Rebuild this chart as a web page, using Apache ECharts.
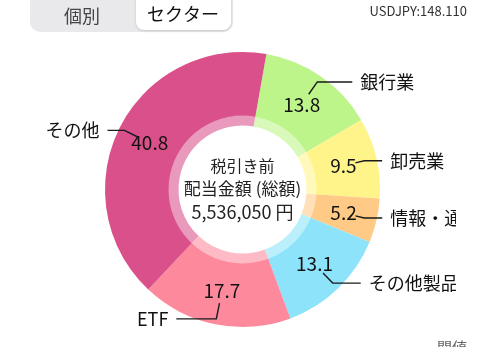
<!DOCTYPE html>
<html>
<head>
<meta charset="utf-8">
<script src="https://cdn.jsdelivr.net/npm/echarts@6/dist/echarts.min.js"></script>
<style>
  html, body { margin: 0; padding: 0; background: #fff; }
  #chart { width: 485px; height: 347px; }
</style>
</head>
<body>
<div id="chart"></div>
<script>
// Sector breakdown of pre-tax dividends (%)
const sectors = ['銀行業', '卸売業', '情報・通信', 'その他製品', 'ETF', 'その他'];
const shares = [13.8, 9.5, 5.2, 13.1, 17.7, 40.8];
const centerLines = ['税引き前', '配当金額 (総額)', '5,536,050 円'];
const tabs = ['個別', 'セクター'];
const fxText = 'USDJPY:148.110';
const footText = '関値';

const palette = ['#bdf58b', '#fff48a', '#ffca85', '#8ce3fa', '#fd8a9c', '#d9508a'];
// leader line segments per slice: [radial, horizontal]
const leaderSegs = [[15, 35], [9, 18], [9, 18], [14, 28], [16, 40], [16, 17]];
const FONT = '"Noto Sans CJK JP", "Noto Sans", sans-serif';

const CX = 242.5, CY = 189.5;

const chart = echarts.init(document.getElementById('chart'), null, { renderer: 'canvas' });

chart.setOption({
  animation: false,
  backgroundColor: '#ffffff',
  graphic: [
    // segmented control
    { type: 'rect', shape: { x: 30, y: -12, width: 203, height: 44, r: 10 },
      style: { fill: '#e9e9ec' } },
    { type: 'rect', shape: { x: 136, y: -8, width: 95, height: 38, r: 8 },
      style: { fill: '#ffffff', shadowBlur: 3, shadowColor: 'rgba(0,0,0,0.15)', shadowOffsetY: 1 } },
    { type: 'text', x: 82, y: 16,
      style: { text: tabs[0], font: '18px ' + FONT, fill: '#444', align: 'center', verticalAlign: 'middle' } },
    { type: 'text', x: 183, y: 14,
      style: { text: tabs[1], font: '18px ' + FONT, fill: '#111', align: 'center', verticalAlign: 'middle' } },
    { type: 'text', x: 467, y: 11,
      style: { text: fxText, font: '13px ' + FONT, fill: '#333', align: 'right', verticalAlign: 'middle' } },
    { type: 'text', x: 452, y: 347,
      style: { text: footText, font: '15px ' + FONT, fill: '#666', align: 'center', verticalAlign: 'middle' } },
    // right-hand edge of the visible panel
    { type: 'rect', z: 200, shape: { x: 456, y: 40, width: 40, height: 270 },
      style: { fill: '#ffffff' } },
    // centre caption
    { type: 'text', x: CX, y: 166, z: 100,
      style: { text: centerLines[0], font: '16px ' + FONT, fill: '#222', align: 'center', verticalAlign: 'middle' } },
    { type: 'text', x: CX, y: 189, z: 100,
      style: { text: centerLines[1], font: '17px ' + FONT, fill: '#222', align: 'center', verticalAlign: 'middle' } },
    { type: 'text', x: CX, y: 212, z: 100,
      style: { text: centerLines[2], font: '18px ' + FONT, fill: '#222', align: 'center', verticalAlign: 'middle' } }
  ],
  series: [
    {
      type: 'pie',
      center: [CX, CY],
      radius: [64, 137.5],
      startAngle: 80,
      clockwise: true,
      avoidLabelOverlap: false,
      silent: true,
      itemStyle: { borderWidth: 0 },
      label: {
        show: true,
        position: 'inside',
        formatter: p => p.value.toFixed(1),
        fontFamily: FONT,
        fontSize: 19,
        color: '#111'
      },
      labelLine: { show: false },
      data: sectors.map((name, i) => ({
        name: name,
        value: shares[i],
        itemStyle: { color: palette[i] }
      })),
      z: 1
    },
    {
      // invisible ring carrying the name labels and leader lines
      type: 'pie',
      center: [CX, CY],
      radius: [60, 116],
      startAngle: 80,
      clockwise: true,
      avoidLabelOverlap: false,
      silent: true,
      itemStyle: { color: 'rgba(0,0,0,0)', borderWidth: 0 },
      label: {
        show: true,
        position: 'outside',
        formatter: p => p.name,
        fontFamily: FONT,
        fontSize: 18,
        color: '#111',
        distanceToLabelLine: 8
      },
      labelLine: {
        show: true,
        smooth: false,
        lineStyle: { color: '#1a1a1a', width: 1.4 }
      },
      data: sectors.map((name, i) => ({
        name: name,
        value: shares[i],
        labelLine: { length: leaderSegs[i][0], length2: leaderSegs[i][1] }
      })),
      z: 3
    },
    {
      // soft white halo around the hole
      type: 'pie',
      center: [CX, CY],
      radius: [63, 74],
      silent: true,
      label: { show: false },
      labelLine: { show: false },
      itemStyle: { color: 'rgba(255,255,255,0.42)', borderWidth: 0 },
      data: [{ value: 1, name: '' }],
      z: 2
    }
  ]
});
</script>
</body>
</html>
